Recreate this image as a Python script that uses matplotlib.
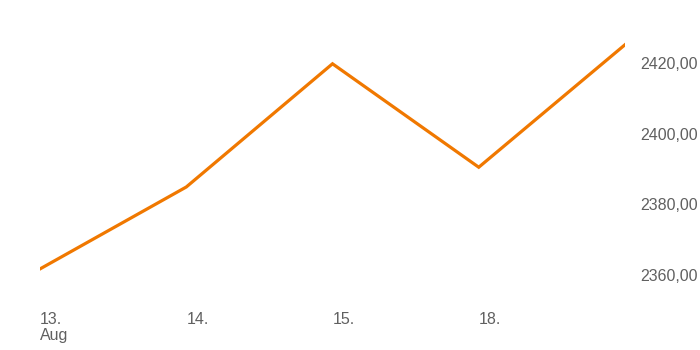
import matplotlib
matplotlib.use("Agg")
import matplotlib.pyplot as plt
from matplotlib.ticker import FuncFormatter

# Closing prices, 13.–19. Aug (trading days only)
days = ["13. Aug", "14.", "15.", "18.", "19."]
prices = [2361.7, 2384.9, 2419.8, 2390.5, 2425.2]
x_labels = ["13.\nAug", "14.", "15.", "18."]
y_ticks = [2360, 2380, 2400, 2420]

plt.rcParams["font.family"] = ["Liberation Sans", "DejaVu Sans"]

fig = plt.figure(figsize=(7, 3.5), dpi=100)
ax = fig.add_axes([40 / 700, 50 / 350, 585 / 700, 280 / 350])

x = list(range(len(prices)))
ax.plot(x, prices, color="#f07800", linewidth=2.3, solid_joinstyle="miter")

ax.set_xlim(0, len(prices) - 1)
ax.set_ylim(2352.9, 2432.2)

ax.set_xticks(x[:len(x_labels)])
ax.set_xticklabels(x_labels, ha="left", va="top", linespacing=1.05)
ax.set_yticks(y_ticks)
ax.yaxis.tick_right()
ax.yaxis.set_major_formatter(FuncFormatter(lambda v, _: f"{v:.2f}".replace(".", ",")))
for lab in ax.get_yticklabels():
    lab.set_horizontalalignment("left")

ax.tick_params(axis="both", length=0, labelsize=11.5, colors="#606060")
ax.tick_params(axis="x", pad=9)
ax.tick_params(axis="y", pad=11)

for s in ax.spines.values():
    s.set_visible(False)

fig.savefig("out.png", dpi=100)
